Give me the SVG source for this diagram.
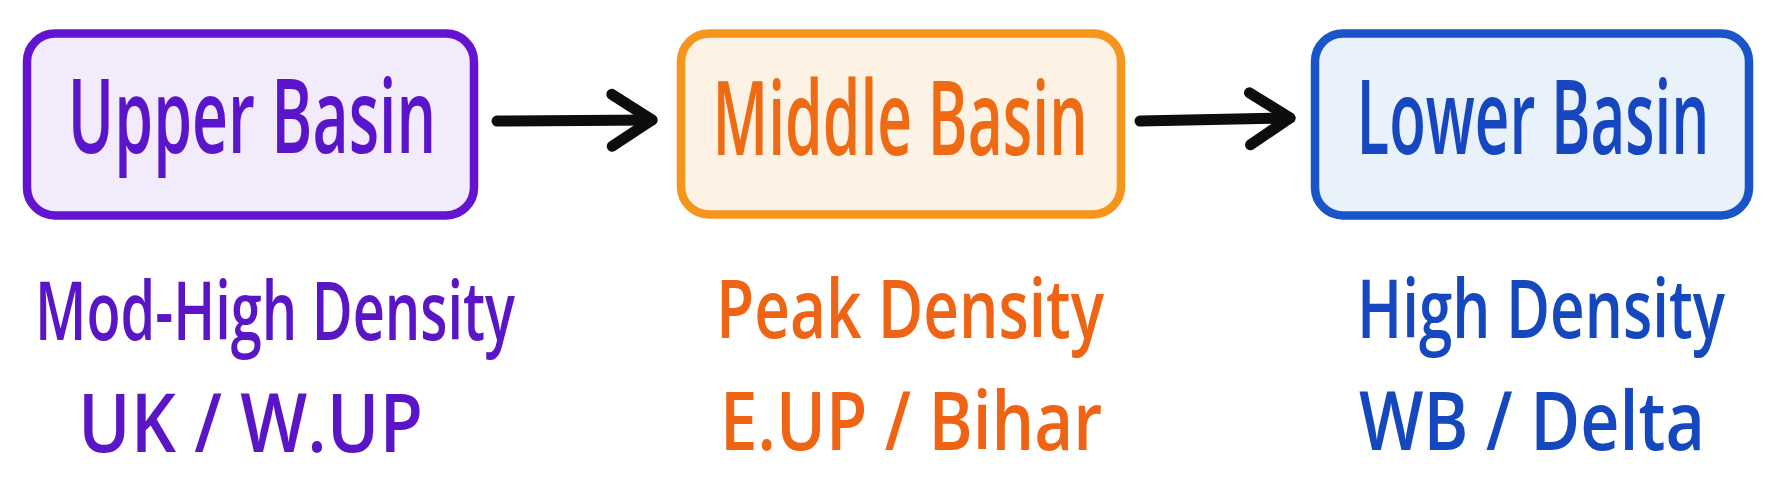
<svg xmlns="http://www.w3.org/2000/svg" width="1776" height="483" viewBox="0 0 1776 483">
<style>
.box{stroke-width:8.5;stroke-linejoin:round}
.lbl{font-family:"Open Sans","DejaVu Sans",sans-serif;font-weight:600;font-size:104px;text-anchor:middle}
.sub{font-family:"Open Sans","DejaVu Sans",sans-serif;font-weight:600;font-size:82px}
.conn{fill:none;stroke:#0d0d0d;stroke-width:11;stroke-linecap:round}
</style>
<defs>
<marker id="head" viewBox="-52 -34 60 68" markerWidth="60" markerHeight="68" refX="0" refY="0" orient="auto" markerUnits="userSpaceOnUse">
<path d="M-40,-26 L0,0 L-40,26" fill="none" stroke="#0d0d0d" stroke-width="11" stroke-linecap="round" stroke-linejoin="round"/>
</marker>
</defs>
<rect width="1776" height="483" fill="#ffffff"/>
<g id="upper">
<rect class="box" x="27" y="33.5" width="447" height="182" rx="28" fill="#f2ebfb" stroke="#6413d1"/>
<text class="lbl" transform="translate(252,153) scale(0.62,1)" x="0" y="0" textLength="594" lengthAdjust="spacingAndGlyphs" fill="#5a14c9">Upper Basin</text>
<text class="sub" transform="translate(35,340) scale(0.64,1)" x="0" y="0" textLength="750" lengthAdjust="spacingAndGlyphs" fill="#5a16c6">Mod-High Density</text>
<text class="sub" transform="translate(78,452) scale(0.88,1)" x="0" y="0" textLength="392" lengthAdjust="spacingAndGlyphs" fill="#5a16c6">UK / W.UP</text>
</g>
<g id="middle">
<rect class="box" x="681" y="33.5" width="440" height="181" rx="28" fill="#fdf2e4" stroke="#f5951b"/>
<text class="lbl" transform="translate(900,155) scale(0.61,1)" x="0" y="0" textLength="615" lengthAdjust="spacingAndGlyphs" fill="#ee6b14">Middle Basin</text>
<text class="sub" transform="translate(716,338) scale(0.79,1)" x="0" y="0" textLength="491" lengthAdjust="spacingAndGlyphs" fill="#ef6414">Peak Density</text>
<text class="sub" transform="translate(720,450) scale(0.84,1)" x="0" y="0" textLength="455" lengthAdjust="spacingAndGlyphs" fill="#ef6414">E.UP / Bihar</text>
</g>
<g id="lower">
<rect class="box" x="1315" y="33.5" width="434" height="182" rx="28" fill="#e9f1fb" stroke="#1a54c9"/>
<text class="lbl" transform="translate(1533,154) scale(0.59,1)" x="0" y="0" textLength="598" lengthAdjust="spacingAndGlyphs" fill="#1747c0">Lower Basin</text>
<text class="sub" transform="translate(1357,338) scale(0.76,1)" x="0" y="0" textLength="484" lengthAdjust="spacingAndGlyphs" fill="#1547bf">High Density</text>
<text class="sub" transform="translate(1359,450) scale(0.85,1)" x="0" y="0" textLength="407" lengthAdjust="spacingAndGlyphs" fill="#1547bf">WB / Delta</text>
</g>
<g id="connectors">
<path class="conn" d="M497,121 L652,120" marker-end="url(#head)"/>
<path class="conn" d="M1140,121 L1290,118" marker-end="url(#head)"/>
</g>
</svg>
